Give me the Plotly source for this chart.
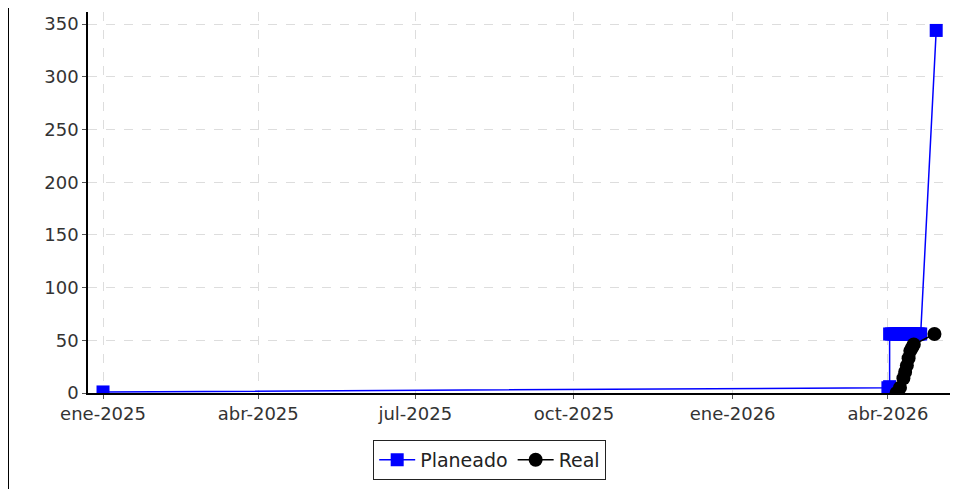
import plotly.graph_objects as go

# ---- data ----
plan_dates = ["2025-01-01", "2026-04-01", "2026-04-02", "2026-04-02",
              "2026-04-03", "2026-04-04", "2026-04-05", "2026-04-06", "2026-04-07",
              "2026-04-08", "2026-04-09", "2026-04-10", "2026-04-11", "2026-04-12",
              "2026-04-13", "2026-04-14", "2026-04-15", "2026-04-16", "2026-04-17",
              "2026-04-18", "2026-04-19", "2026-04-20", "2026-04-29"]
plan_values = [1, 5, 6, 56,
               56, 56, 56, 56, 56,
               56, 56, 56, 56, 56,
               56, 56, 56, 56, 56,
               56, 56, 56, 344]

real_dates = ["2026-04-06", "2026-04-08", "2026-04-10", "2026-04-11", "2026-04-12",
              "2026-04-13", "2026-04-14", "2026-04-15", "2026-04-16", "2026-04-28"]
real_values = [0, 5, 14, 20, 26, 33, 40, 43, 46, 56]

tick_dates = ["2025-01-01", "2025-04-01", "2025-07-01", "2025-10-01", "2026-01-01", "2026-04-01"]
tick_labels = ["ene-2025", "abr-2025", "jul-2025", "oct-2025", "ene-2026", "abr-2026"]
y_ticks = [0, 50, 100, 150, 200, 250, 300, 350]

FONT = "DejaVu Sans"

fig = go.Figure()
fig.add_trace(go.Scatter(
    x=plan_dates, y=plan_values, name="Planeado", mode="lines+markers",
    line=dict(color="#0000ff", width=1.5),
    marker=dict(symbol="square", size=13, color="#0000ff"),
))
fig.add_trace(go.Scatter(
    x=real_dates, y=real_values, name="Real", mode="lines+markers",
    line=dict(color="#000000", width=1.5),
    marker=dict(symbol="circle", size=14, color="#000000"),
))

# page has an 8px body margin, so margins are reduced by 8px
fig.update_layout(
    width=966, height=489,
    margin=dict(l=80, r=24, t=4, b=104),
    paper_bgcolor="white", plot_bgcolor="white",
    font=dict(family=FONT, size=18, color="#333333"),
    showlegend=True,
    legend=dict(orientation="h", x=0.466, xanchor="center", y=-0.123, yanchor="top",
                bordercolor="#222222", borderwidth=1, bgcolor="white",
                font=dict(family=FONT, size=19, color="#222222"),
                itemwidth=36, tracegroupgap=0),
    shapes=[
        dict(type="line", xref="paper", yref="paper", x0=-80/862, x1=-80/862,
             y0=-104/381, y1=1 + 4/381, line=dict(color="black", width=2)),
    ],
)
fig.update_xaxes(
    type="date", range=["2024-12-23 07:00", "2026-05-07"],
    tickvals=tick_dates, ticktext=tick_labels,
    showgrid=True, gridcolor="#dddddd", griddash="dash", gridwidth=1,
    showline=True, linecolor="#000000", linewidth=1.5,
    ticks="outside", ticklen=4, tickcolor="#555555",
    zeroline=False,
)
fig.update_yaxes(
    range=[0, 361.5], tickvals=y_ticks,
    showgrid=True, gridcolor="#dddddd", griddash="dash", gridwidth=1,
    showline=True, linecolor="#000000", linewidth=1.5,
    ticks="outside", ticklen=4, tickcolor="#555555",
    zeroline=False,
)

fig.write_html("out.html")
